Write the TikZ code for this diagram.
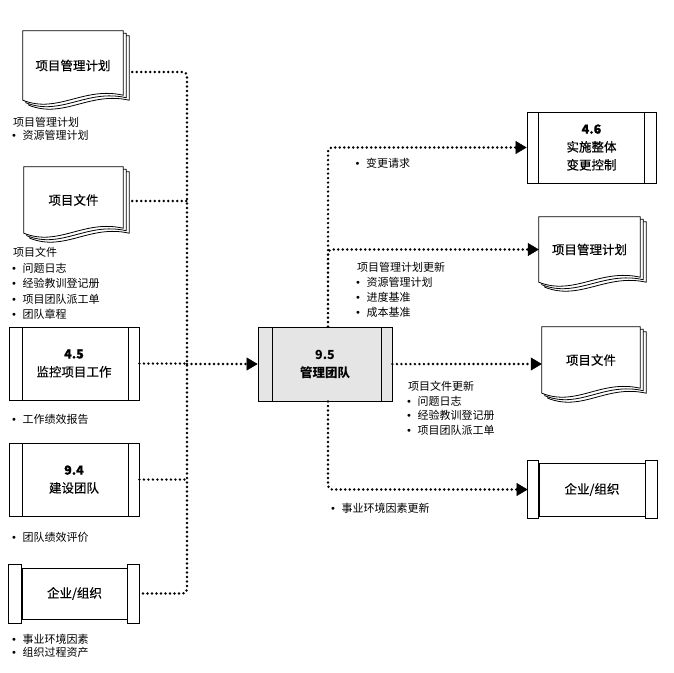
\documentclass[tikz,border=0pt]{standalone}
\usepackage{fontspec}
\setmainfont{Noto Sans CJK SC}
\newfontfamily\djv{DejaVu Sans}
\newfontfamily\medfont[FakeBold=0.4]{Noto Sans CJK SC}
\usetikzlibrary{arrows.meta,backgrounds,calc}
\newcommand\bl{\makebox[12pt][l]{\hspace{0.3pt}{\djv\fontsize{10}{10}\selectfont •}}}
% document page: node, dx, dy (dy positive = downwards)
\newcommand\docpg[3]{%
  \draw[docline] ([xshift=#2pt,yshift=-#3pt]#1.north west) -- ([xshift=#2pt,yshift=-#3pt]#1.north east)
    -- ([xshift=#2pt,yshift=5pt-#3pt]#1.south east)
    .. controls ([xshift=#2pt-40pt,yshift=14pt-#3pt]#1.south east) and ([xshift=#2pt+35pt,yshift=-14pt-#3pt]#1.south west)
    .. ([xshift=#2pt,yshift=-#3pt]#1.south west) -- cycle;}
\begin{document}
\begin{tikzpicture}[x=1pt,y=-1pt,
  lbl/.style={anchor=west, inner sep=0pt, font=\fontsize{11}{13}\selectfont, text height=9.5pt, text depth=1.3pt},
  boxfont/.style={font=\medfont\fontsize{12.5}{18}\selectfont},
  procbox/.style 2 args={draw, line width=0.8pt, inner sep=0pt, align=center, boxfont,
    path picture={\draw[line width=0.8pt]
      ([xshift=#1]path picture bounding box.north west) -- ([xshift=#1]path picture bounding box.south west)
      ([xshift=-#2]path picture bounding box.north east) -- ([xshift=-#2]path picture bounding box.south east);}},
  eefbox/.style={draw, line width=0.8pt, inner sep=0pt, boxfont},
  docnode/.style={inner sep=0pt, boxfont},
  docline/.style={draw, line width=0.8pt, fill=white, line join=miter},
  capline/.style={draw, line width=0.8pt},
  dotline/.style={line width=2.7pt, line cap=round, dash pattern=on 0pt off 4.5pt, rounded corners=4pt},
  arr/.style={-{Triangle[length=11pt 0,width=13pt 0,line width=0.5pt 0]}}
]
\useasboundingbox (0,0) rectangle (674,672);

% ---------- left column ----------
\node[docnode, minimum width=100pt, minimum height=69pt] (inPMP) at (73,65.5) {项目管理计划};
\node[docnode, minimum width=99pt, minimum height=66pt] (inPD) at (73.5,200) {项目文件};
\begin{pgfonlayer}{background}
  \docpg{inPMP}{6}{5}\docpg{inPMP}{3}{2.5}\docpg{inPMP}{0}{0}
  \docpg{inPD}{6}{5}\docpg{inPD}{3}{2.5}\docpg{inPD}{0}{0}
\end{pgfonlayer}

\node[procbox={13pt}{11pt}, minimum width=130pt, minimum height=73pt] (mon) at (74,363.5) {\textbf{4.5}\\监控项目工作};
\node[procbox={13pt}{11pt}, minimum width=130pt, minimum height=73pt] (dev) at (74,479.5) {\textbf{9.4}\\建设团队};
\node[eefbox, minimum width=105pt, minimum height=51pt] (eefIn) at (74.5,593.5) {企业/组织};
\draw[capline] ([yshift=3pt]eefIn.north west) rectangle ([xshift=-13pt,yshift=-4pt]eefIn.south west);
\draw[capline] ([yshift=3pt]eefIn.north east) rectangle ([xshift=12pt,yshift=-4pt]eefIn.south east);

% left labels
\node[lbl] (la1) at (13,122) {项目管理计划};
\node[lbl] (la2) at (10.5,135) {\bl 资源管理计划};
\node[lbl] (lb1) at (13,252) {项目文件};
\node[lbl] (lb2) at (10.5,268) {\bl 问题日志};
\node[lbl] (lb3) at (10.5,283.5) {\bl 经验教训登记册};
\node[lbl] (lb4) at (10.5,299) {\bl 项目团队派工单};
\node[lbl] (lb5) at (10.5,314) {\bl 团队章程};
\node[lbl] (lc) at (10.5,419) {\bl 工作绩效报告};
\node[lbl] (ld) at (10.5,537) {\bl 团队绩效评价};
\node[lbl] (le1) at (10.5,639) {\bl 事业环境因素};
\node[lbl] (le2) at (10.5,652) {\bl 组织过程资产};

% ---------- centre ----------
\node[procbox={14pt}{11pt}, fill=gray!20, minimum width=134pt, minimum height=74pt,
      font=\bfseries\fontsize{12.5}{18}\selectfont] (mgr) at (325,364) {9.5\\管理团队};

% ---------- right column ----------
\node[procbox={11pt}{12pt}, minimum width=129pt, minimum height=71pt] (icc) at (591.5,147.5) {\textbf{4.6}\\实施整体\\变更控制};
\node[docnode, minimum width=101pt, minimum height=65pt] (outPMP) at (589.5,249.5) {项目管理计划};
\node[docnode, minimum width=98pt, minimum height=66pt] (outPD) at (591,360) {项目文件};
\begin{pgfonlayer}{background}
  \docpg{outPMP}{6}{5}\docpg{outPMP}{3}{2.5}\docpg{outPMP}{0}{0}
  \docpg{outPD}{6}{5}\docpg{outPD}{3}{2.5}\docpg{outPD}{0}{0}
\end{pgfonlayer}
\node[eefbox, minimum width=106pt, minimum height=53pt] (eefOut) at (592,489.5) {企业/组织};
\draw[capline] ([yshift=2pt]eefOut.north west) rectangle ([xshift=-11pt,yshift=-2pt]eefOut.south west);
\draw[capline] ([yshift=2pt]eefOut.north east) rectangle ([xshift=12pt,yshift=-2pt]eefOut.south east);

% right labels
\node[lbl] (ra) at (354,163) {\bl 变更请求};
\node[lbl] (rb1) at (357,267) {项目管理计划更新};
\node[lbl] (rb2) at (354.5,282) {\bl 资源管理计划};
\node[lbl] (rb3) at (354.5,297) {\bl 进度基准};
\node[lbl] (rb4) at (354.5,312) {\bl 成本基准};
\node[lbl] (rc1) at (408,386) {项目文件更新};
\node[lbl] (rc2) at (405.5,401) {\bl 问题日志};
\node[lbl] (rc3) at (405.5,415.5) {\bl 经验教训登记册};
\node[lbl] (rc4) at (405.5,430) {\bl 项目团队派工单};
\node[lbl] (rd) at (329.5,508) {\bl 事业环境因素更新};

% ---------- connectors ----------
\coordinate (busT) at (187,72);
\coordinate (busB) at (187,593.5);
\draw[dotline] ($(inPMP.east|-busT)+(9,0)$) -- (busT) -- (busB) -- ($(eefIn.east)+(12,0)$);
\draw[dotline] ($(inPD.east)+(9,1)$) -- ($(inPD.east -| busT)+(0,1)$);
\draw[dotline] (mon.east) -- (mon.east -| busT);
\draw[dotline] (dev.east) -- (dev.east -| busT);
\draw[dotline,arr] (mgr.west -| busT) -- (mgr.west);

\coordinate (mT) at ($(mgr.north)+(3,0)$);
\coordinate (mB) at ($(mgr.south)+(3,0)$);
\draw[dotline,arr] (mT) |- (icc.west);
\draw[dotline,arr] (mT) |- (outPMP.west);
\draw[dotline,arr] (mgr.east) -- (mgr.east -| outPD.west);
\draw[dotline,arr] (mB) |- ($(eefOut.west)+(-11,0)$);
\end{tikzpicture}
\end{document}
